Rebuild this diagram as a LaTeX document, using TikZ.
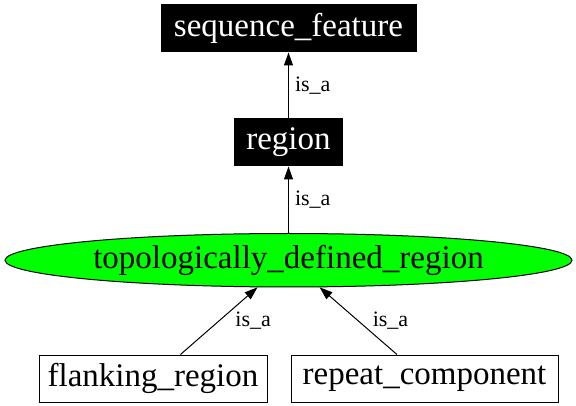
\documentclass[tikz,border=0pt]{standalone}
\usepackage{fontspec}
\setmainfont{Liberation Serif}
\usepackage{tikz}
\usetikzlibrary{shapes.geometric, arrows.meta, positioning}
\definecolor{termgreen}{RGB}{0,255,0}

\begin{document}
\begin{tikzpicture}[x=1pt, y=-1pt,
    darkbox/.style={rectangle, draw=black, fill=black, text=white, line width=1pt, inner sep=0pt, minimum height=47pt, font=\fontsize{33}{39}\selectfont},
    plainbox/.style={rectangle, draw=black, fill=white, line width=1pt, inner sep=0pt, minimum height=47pt, font=\fontsize{33}{39}\selectfont},
    oval/.style={ellipse, draw=black, fill=termgreen, line width=1pt, inner sep=0pt, minimum width=567pt, minimum height=53.5pt, font=\fontsize{33}{39}\selectfont},
    isa/.style={line width=1pt, -{Triangle[length=13pt, width=9pt]}},
    lbl/.style={inner sep=0pt, font=\fontsize{22}{26}\selectfont}]

    \useasboundingbox (0,0) rectangle (576,406);

    \node[darkbox, minimum width=255pt] (seqfeat) at (288.5,28.5) {sequence\_feature};
    \node[darkbox, minimum width=108pt, below=66pt of seqfeat] (region) {region};
    \node[oval, below=66.5pt of region] (topo) {topologically\_defined\_region};
    \node[plainbox, minimum width=228pt, below=67pt of topo, xshift=-135.5pt] (flank) {flanking\_region};
    \node[plainbox, minimum width=267pt, below=67pt of topo, xshift=136pt] (repeat) {repeat\_component};

    \draw[isa] (region) -- node[lbl, pos=0.5, right=6pt] {is\_a} (seqfeat);
    \draw[isa] (topo) -- node[lbl, pos=0.5, right=6pt] {is\_a} (region);
    \draw[isa] (flank) -- node[lbl, pos=0.5, right=16pt] {is\_a} (topo);
    \draw[isa] (repeat) -- node[lbl, pos=0.5, right=14pt] {is\_a} (topo);
\end{tikzpicture}
\end{document}
